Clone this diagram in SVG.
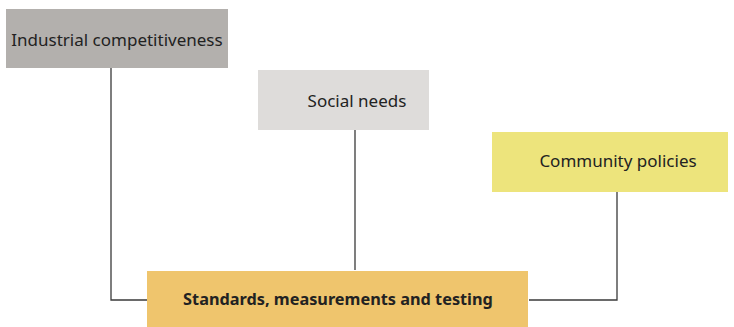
<svg xmlns="http://www.w3.org/2000/svg" width="734" height="327" viewBox="0 0 734 327">
<style>
.t{font-family:"Noto Sans","Liberation Sans",sans-serif;font-size:17px;fill:#222222;text-anchor:middle;dominant-baseline:central}
.b{font-weight:bold;font-size:16.3px}
.c{fill:none;stroke:#3a3a3a;stroke-width:1.3}
</style>
<rect width="734" height="327" fill="#ffffff"/>
<g id="connectors">
<path class="c" d="M111,68 V300 H147"/>
<path class="c" d="M355,130 V270"/>
<path class="c" d="M617,192 V300 H529"/>
</g>
<g id="industrial">
<rect x="6" y="9" width="222" height="59" fill="#b3b0ad"/>
<text class="t" x="117" y="39">Industrial competitiveness</text>
</g>
<g id="social">
<rect x="258" y="70" width="171" height="60" fill="#dedcda"/>
<text class="t" x="357" y="100">Social needs</text>
</g>
<g id="community">
<rect x="492" y="132" width="236" height="60" fill="#ede47c"/>
<text class="t" x="618" y="160">Community policies</text>
</g>
<g id="standards">
<rect x="147" y="271" width="381" height="56" fill="#efc56d"/>
<text class="t b" x="338" y="299">Standards, measurements and testing</text>
</g>
</svg>
